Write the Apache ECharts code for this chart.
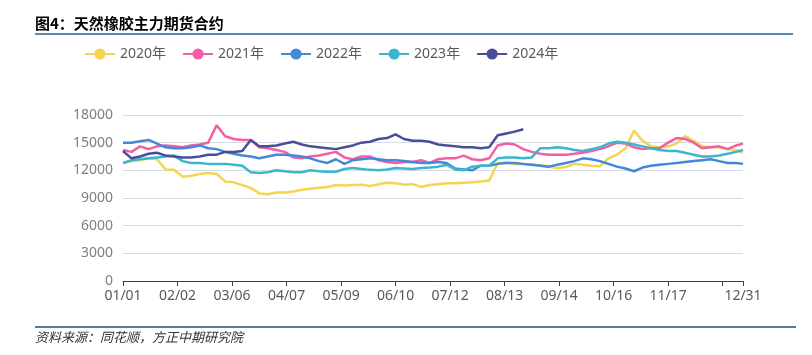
<!DOCTYPE html>
<html>
<head>
<meta charset="utf-8">
<script src="https://cdn.jsdelivr.net/npm/echarts@6/dist/echarts.min.js"></script>
<style>
html,body{margin:0;padding:0;background:#fff;}
#chart{width:812px;height:355px;}
</style>
</head>
<body>
<div id="chart"></div>
<script>
// Categories: every calendar day MM/DD (non-leap year)
const monthDays = [31,28,31,30,31,30,31,31,30,31,30,31];
const categories = [];
monthDays.forEach((n, m) => {
  for (let d = 1; d <= n; d++) {
    categories.push(String(m + 1).padStart(2, '0') + '/' + String(d).padStart(2, '0'));
  }
});
// Sampled dates (every 5th day plus the last day) at which values were read
const sampleDates = categories.filter((d, i) => i % 5 === 0 || i === categories.length - 1);

const seriesNames = ['2020年', '2021年', '2022年', '2023年', '2024年'];

const y2020 = [12800,13000,13100,13300,13200,12100,12050,11300,11400,11600,11700,11600,10800,10700,10400,10100,9500,9400,9600,9600,
  9700,9900,10000,10100,10200,10400,10350,10400,10450,10300,10500,10650,10600,10450,10500,10200,10400,10500,10600,10600,
  10650,10700,10800,10900,12800,12850,12700,12650,12600,12550,12400,12250,12350,12700,12600,12500,12450,13300,13700,14400,
  16300,15200,14600,14500,14600,14900,15700,15200,14600,14500,14500,14300,14200,13900];

const y2021 = [14200,14000,14600,14300,14600,14700,14600,14500,14700,14800,15000,16900,15700,15400,15300,15300,14500,14400,14200,14000,
  13400,13300,13500,13600,13800,14000,13400,13200,13500,13500,13100,12900,12800,12900,12900,13100,12800,13200,13300,13300,
  13600,13200,13100,13300,14700,14900,14800,14300,14000,13800,13700,13700,13700,13800,13900,14100,14300,14600,15000,14900,
  14500,14300,14400,14400,15000,15500,15400,15000,14400,14500,14600,14300,14700,14900];

const y2022 = [15000,15000,15150,15300,14900,14500,14400,14400,14500,14700,14400,14300,14000,13800,13600,13500,13300,13500,13700,13700,
  13600,13500,13300,13000,12800,13200,12700,13100,13200,13300,13200,13100,13100,13000,12900,12800,12800,12900,12800,12200,
  12100,12000,12500,12500,12700,12800,12800,12700,12600,12500,12400,12600,12800,13000,13300,13200,13000,12700,12400,12200,
  11900,12300,12500,12600,12700,12800,12900,13000,13100,13200,13000,12800,12800,12700];

const y2023 = [12800,13100,13200,13300,13400,13500,13600,13000,12800,12800,12700,12700,12700,12600,12500,11800,11700,11800,12000,11900,
  11800,11800,12000,11900,11850,11850,12150,12250,12150,12050,12000,12100,12250,12200,12150,12250,12300,12400,12600,12100,
  12000,12400,12500,12500,13300,13400,13400,13300,13400,14400,14400,14500,14400,14200,14100,14300,14500,14900,15100,15000,
  14800,14600,14400,14200,14100,14100,13900,13700,13500,13500,13600,13800,14000,14200];

const y2024 = [14100,13300,13500,13800,13900,13600,13500,13400,13400,13500,13700,13700,14000,14000,14100,15300,14600,14600,14700,14900,
  15100,14800,14600,14500,14400,14300,14500,14700,15000,15100,15400,15500,15900,15400,15200,15200,15100,14800,14700,14600,
  14500,14500,14400,14500,15800,16000,16200,16450];

const yTicks = { min: 0, max: 18000, interval: 3000 };
const colors = ['#F4D452', '#F25FA5', '#4388D9', '#3CB6CC', '#4A4E98'];
const values = [y2020, y2021, y2022, y2023, y2024];

const chart = echarts.init(document.getElementById('chart'));
const labelFont = 'Noto Sans, Noto Sans CJK SC, sans-serif';
const lastIdx = categories.length - 1;

chart.setOption({
  animation: false,
  color: colors,
  title: {
    text: '图4：天然橡胶主力期货合约',
    left: 30, top: 11,
    textStyle: { fontSize: 15, fontWeight: 'bold', color: '#000', fontFamily: 'Noto Sans CJK SC' }
  },
  legend: {
    data: seriesNames,
    left: 79, top: 42,
    itemWidth: 30, itemHeight: 14, itemGap: 16,
    textStyle: { fontSize: 14, color: '#595959', fontFamily: labelFont }
  },
  grid: { left: 123, right: 69, top: 115, bottom: 74 },
  xAxis: {
    type: 'category',
    data: categories,
    boundaryGap: false,
    axisLine: { lineStyle: { color: '#404040', width: 1 } },
    axisTick: {
      length: 5,
      lineStyle: { color: '#404040' },
      interval: (i) => i % 32 === 0 || i === lastIdx
    },
    axisLabel: {
      color: '#595959', fontSize: 14, fontFamily: labelFont, margin: 8,
      interval: (i) => (i % 32 === 0 && i !== 352) || i === lastIdx
    },
    splitLine: { show: false }
  },
  yAxis: {
    type: 'value',
    min: yTicks.min, max: yTicks.max, interval: yTicks.interval,
    axisLine: { show: false },
    axisTick: { show: false },
    axisLabel: { color: '#7F7F7F', fontSize: 14, fontFamily: labelFont, margin: 10, formatter: (v) => String(v) },
    splitLine: { lineStyle: { color: '#D9DCE6', width: 1 } }
  },
  series: seriesNames.map((name, s) => ({
    name: name,
    type: 'line',
    symbol: 'circle',
    showSymbol: false,
    lineStyle: { width: 2.5 },
    data: values[s].map((v, k) => [sampleDates[k], v])
  })),
  graphic: [
    { type: 'line', shape: { x1: 35, y1: 34, x2: 793, y2: 34 }, style: { stroke: '#1F5F9B', lineWidth: 1.5 } },
    { type: 'line', shape: { x1: 35, y1: 327, x2: 796, y2: 327 }, style: { stroke: '#1B4F80', lineWidth: 1.5 } },
    { type: 'text', left: 35, top: 331,
      style: { text: '资料来源：同花顺，方正中期研究院', fill: '#333', font: 'italic 13px "Noto Sans CJK SC"' } }
  ]
});
</script>
</body>
</html>
